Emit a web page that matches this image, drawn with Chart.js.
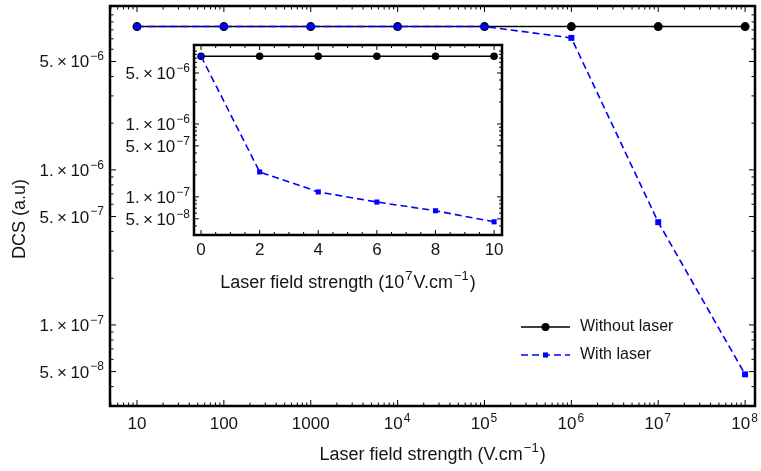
<!DOCTYPE html>
<html>
<head>
<meta charset="utf-8">
<script src="https://cdn.jsdelivr.net/npm/chart.js@4.4.0/dist/chart.umd.min.js"></script>
<style>
  html, body { margin: 0; padding: 0; background: #fff; }
  #wrap { position: relative; width: 761px; height: 471px; }
  #mainChart { position: absolute; left: 0; top: 0; }
  #insetChart { position: absolute; left: 115px; top: 35px; }
</style>
</head>
<body>
<div id="wrap">
  <canvas id="mainChart" width="761" height="471"></canvas>
  <canvas id="insetChart" width="400" height="265"></canvas>
</div>
<script>
// main plot data (field strength in V/cm, log axis)
const fieldStrength = [10, 100, 1000, 1e4, 1e5, 1e6, 1e7, 1e8];
const dcsWithout = [8.4e-6, 8.4e-6, 8.4e-6, 8.4e-6, 8.4e-6, 8.4e-6, 8.4e-6, 8.4e-6];
const dcsWith = [8.4e-6, 8.4e-6, 8.4e-6, 8.4e-6, 8.4e-6, 7.1e-6, 4.6e-7, 4.8e-8];
// '^' toggles superscript
const xTickLabels = ['10', '100', '1000', '10^4', '10^5', '10^6', '10^7', '10^8'];
const yTickValues = [5e-8, 1e-7, 5e-7, 1e-6, 5e-6];
const yTickLabels = ['5.\u2009×\u200910^-8', '1.\u2009×\u200910^-7', '5.\u2009×\u200910^-7', '1.\u2009×\u200910^-6', '5.\u2009×\u200910^-6'];

// inset data (field strength in 10^7 V/cm, linear axis)
const insetField = [0, 2, 4, 6, 8, 10];
const insetWithout = [8.5e-6, 8.5e-6, 8.5e-6, 8.5e-6, 8.5e-6, 8.5e-6];
const insetWith = [8.5e-6, 2.2e-7, 1.17e-7, 8.5e-8, 6.45e-8, 4.55e-8];
const insetXTicks = [0, 2, 4, 6, 8, 10];
const insetXLabels = ['0', '2', '4', '6', '8', '10'];

const FONT = "'Liberation Sans', Arial, sans-serif";
const TEXT = '#151515';
Chart.defaults.font.family = FONT;

function logMinors(min, max, majors) {
  const out = [];
  for (let e = Math.floor(Math.log10(min)); e <= Math.ceil(Math.log10(max)); e++) {
    for (let m = 1; m < 10; m++) {
      const v = m * Math.pow(10, e);
      if (v >= min && v <= max && !majors.some(t => Math.abs(t - v) / v < 1e-9)) out.push(v);
    }
  }
  return out;
}

function linMinors(min, max, step, majors) {
  const out = [];
  for (let v = Math.ceil(min / step) * step; v <= max; v += step) {
    if (!majors.some(t => Math.abs(t - v) < 1e-9)) out.push(v);
  }
  return out;
}

function toPoints(xs, ys) {
  return xs.map((x, i) => ({ x: x, y: ys[i] }));
}

// text with superscripts: segments split by '^', odd ones raised
function richText(ctx, text, x, y, align, size) {
  const parts = text.split('^');
  const supSize = Math.round(size * 0.7);
  const widths = parts.map((p, i) => {
    ctx.font = (i % 2 ? supSize : size) + 'px ' + FONT;
    return ctx.measureText(i % 2 ? p.replace('-', '−') : p).width + (i % 2 ? 2 : 0);
  });
  const w = widths.reduce((s, v) => s + v, 0);
  let cx = align === 'center' ? x - w / 2 : align === 'right' ? x - w : x;
  ctx.textAlign = 'left';
  ctx.textBaseline = 'alphabetic';
  parts.forEach((p, i) => {
    ctx.font = (i % 2 ? supSize : size) + 'px ' + FONT;
    if (i % 2) ctx.fillText(p.replace('-', '−'), cx + 1, y - size * 0.42);
    else ctx.fillText(p, cx, y);
    cx += widths[i];
  });
}

// frame around plot area with inward ticks on all four sides
const frameTicks = {
  id: 'frameTicks',
  beforeDatasetsDraw(chart) {
    const a = chart.chartArea, ctx = chart.ctx;
    ctx.save();
    ctx.fillStyle = '#fff';
    ctx.fillRect(a.left, a.top, a.right - a.left, a.bottom - a.top);
    ctx.restore();
  },
  afterDatasetsDraw(chart, args, o) {
    const a = chart.chartArea, ctx = chart.ctx;
    const xs = chart.scales.x, ys = chart.scales.y;
    ctx.save();
    ctx.strokeStyle = '#000';
    ctx.lineWidth = 1;
    const tick = (vals, len, horiz) => {
      vals.forEach(v => {
        ctx.beginPath();
        if (horiz) {
          const p = xs.getPixelForValue(v);
          ctx.moveTo(p, a.bottom); ctx.lineTo(p, a.bottom - len);
          ctx.moveTo(p, a.top); ctx.lineTo(p, a.top + len);
        } else {
          const p = ys.getPixelForValue(v);
          ctx.moveTo(a.left, p); ctx.lineTo(a.left + len, p);
          ctx.moveTo(a.right, p); ctx.lineTo(a.right - len, p);
        }
        ctx.stroke();
      });
    };
    tick(o.xMajor, o.major, true);
    tick(o.xMinor, o.minor, true);
    tick(o.yMajor, o.major, false);
    tick(o.yMinor, o.minor, false);
    ctx.lineWidth = o.frameWidth;
    ctx.strokeRect(a.left, a.top, a.right - a.left, a.bottom - a.top);
    ctx.restore();
  }
};

// tick labels and axis titles (drawn at scale pixels, with superscripts)
const axisText = {
  id: 'axisText',
  afterDraw(chart, args, o) {
    const a = chart.chartArea, ctx = chart.ctx;
    const xs = chart.scales.x, ys = chart.scales.y;
    ctx.save();
    ctx.fillStyle = TEXT;
    o.xTicks.forEach((v, i) => {
      richText(ctx, o.xLabels[i], xs.getPixelForValue(v), a.bottom + o.xBase, 'center', o.size);
    });
    o.yTicks.forEach((v, i) => {
      richText(ctx, o.yLabels[i], a.left - o.yGap, ys.getPixelForValue(v) + o.yBase, 'right', o.size);
    });
    if (o.xTitle) {
      richText(ctx, o.xTitle, (a.left + a.right) / 2, a.bottom + o.xTitleBase, 'center', o.titleSize);
    }
    if (o.yTitle) {
      ctx.save();
      ctx.translate(o.yTitleX, (a.top + a.bottom) / 2 + o.yTitleShift);
      ctx.rotate(-Math.PI / 2);
      richText(ctx, o.yTitle, 0, 0, 'center', o.titleSize);
      ctx.restore();
    }
    ctx.restore();
  }
};

// legend with line sample + marker, placed inside the plot area
const lineLegend = {
  id: 'lineLegend',
  afterDraw(chart, args, o) {
    if (!o.show) return;
    const a = chart.chartArea, ctx = chart.ctx;
    chart.data.datasets.forEach((ds, i) => {
      const x0 = a.right - o.right;
      const y = a.bottom - o.bottom + i * o.rowGap;
      ctx.save();
      ctx.strokeStyle = ds.borderColor;
      ctx.lineWidth = ds.borderWidth;
      ctx.setLineDash(ds.borderDash || []);
      ctx.beginPath();
      ctx.moveTo(x0, y);
      ctx.lineTo(x0 + o.lineLen, y);
      ctx.stroke();
      ctx.setLineDash([]);
      ctx.fillStyle = ds.pointBackgroundColor;
      Chart.helpers.drawPoint(ctx, {
        pointStyle: ds.pointStyle, radius: o.markerRadius[i], rotation: 0, borderWidth: 0
      }, x0 + o.lineLen / 2, y);
      ctx.fillStyle = TEXT;
      ctx.font = o.size + 'px ' + FONT;
      ctx.textBaseline = 'middle';
      ctx.textAlign = 'left';
      ctx.fillText(ds.label, x0 + o.lineLen + 10, y);
      ctx.restore();
    });
  }
};

function datasets(xs, yWithout, yWith, rCircle, rSquare) {
  return [
    {
      label: 'Without laser',
      data: toPoints(xs, yWithout),
      borderColor: '#000',
      backgroundColor: '#000',
      pointBackgroundColor: '#000',
      pointBorderWidth: 0,
      pointRadius: rCircle,
      pointStyle: 'circle',
      borderWidth: 1.5,
      order: 1
    },
    {
      label: 'With laser',
      data: toPoints(xs, yWith),
      borderColor: '#0000ff',
      backgroundColor: '#0000ff',
      pointBackgroundColor: '#0000ff',
      pointBorderWidth: 0,
      pointRadius: rSquare,
      pointStyle: 'rect',
      borderWidth: 1.6,
      borderDash: [7, 4],
      order: 0
    }
  ];
}

function scaleOpts(type, range, ticks, fit) {
  return {
    type: type,
    min: range.min,
    max: range.max,
    grid: { display: false, drawTicks: false },
    border: { display: false },
    ticks: { display: false },
    afterBuildTicks: s => { s.ticks = ticks.map(v => ({ value: v })); },
    afterFit: s => {
      fit(s);
      s.paddingTop = 0; s.paddingBottom = 0; s.paddingLeft = 0; s.paddingRight = 0;
    }
  };
}

// ---- main chart ----
const mainX = { min: 4.89, max: 1.3e8 };
const mainY = { min: 3.24e-8, max: 1.14e-5 };

new Chart(document.getElementById('mainChart'), {
  type: 'line',
  data: { datasets: datasets(fieldStrength, dcsWithout, dcsWith, 4.5, 4.2) },
  options: {
    responsive: false,
    animation: false,
    layout: { padding: { left: 0, right: 6, top: 6, bottom: 0 } },
    scales: {
      x: scaleOpts('logarithmic', mainX, fieldStrength, s => { s.height = 65; }),
      y: scaleOpts('logarithmic', mainY, yTickValues, s => { s.width = 110; })
    },
    plugins: {
      legend: { display: false },
      tooltip: { enabled: false },
      frameTicks: {
        xMajor: fieldStrength,
        xMinor: logMinors(mainX.min, mainX.max, fieldStrength),
        yMajor: yTickValues,
        yMinor: logMinors(mainY.min, mainY.max, yTickValues),
        major: 6,
        minor: 3.5,
        frameWidth: 2.5
      },
      axisText: {
        xTicks: fieldStrength, xLabels: xTickLabels,
        yTicks: yTickValues, yLabels: yTickLabels,
        size: 17, xBase: 23, yGap: 5, yBase: 6,
        titleSize: 18,
        xTitle: 'Laser field strength (V.cm^-1^)', xTitleBase: 54,
        yTitle: 'DCS (a.u)', yTitleX: 25, yTitleShift: 13
      },
      lineLegend: {
        show: true,
        size: 16,
        right: 234,
        bottom: 79,
        rowGap: 28,
        lineLen: 49,
        markerRadius: [4, 3.6]
      }
    }
  },
  plugins: [frameTicks, axisText, lineLegend]
});

// ---- inset chart ----
const insetXR = { min: -0.24, max: 10.27 };
const insetYR = { min: 3.02e-8, max: 1.21e-5 };

new Chart(document.getElementById('insetChart'), {
  type: 'line',
  data: { datasets: datasets(insetField, insetWithout, insetWith, 3.8, 3.6) },
  options: {
    responsive: false,
    animation: false,
    layout: { padding: { left: 0, right: 13, top: 10, bottom: 0 } },
    scales: {
      x: scaleOpts('linear', insetXR, insetXTicks, s => { s.height = 65; }),
      y: scaleOpts('logarithmic', insetYR, yTickValues, s => { s.width = 79; })
    },
    plugins: {
      legend: { display: false },
      tooltip: { enabled: false },
      frameTicks: {
        xMajor: insetXTicks,
        xMinor: linMinors(insetXR.min, insetXR.max, 0.5, insetXTicks),
        yMajor: yTickValues,
        yMinor: logMinors(insetYR.min, insetYR.max, yTickValues),
        major: 5,
        minor: 3,
        frameWidth: 2.5
      },
      axisText: {
        xTicks: insetXTicks, xLabels: insetXLabels,
        yTicks: yTickValues, yLabels: yTickLabels,
        size: 17, xBase: 20, yGap: 3, yBase: 6,
        titleSize: 18,
        xTitle: 'Laser field strength (10^7^V.cm^-1^)', xTitleBase: 53
      },
      lineLegend: { show: false }
    }
  },
  plugins: [frameTicks, axisText, lineLegend]
});
</script>
</body>
</html>
